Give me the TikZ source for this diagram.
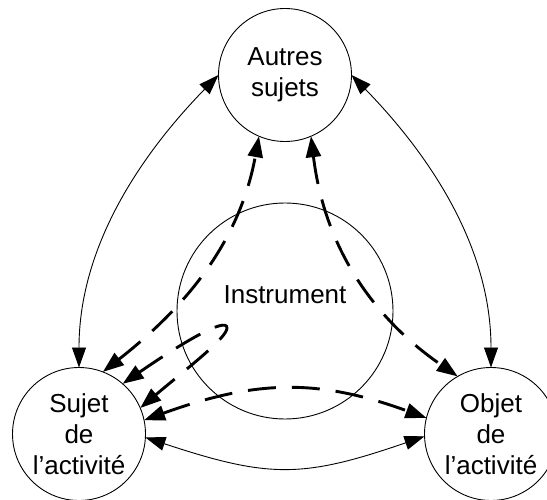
\documentclass[tikz,border=0pt]{standalone}
\usepackage{fontspec}
\setmainfont{Liberation Sans}
\usetikzlibrary{arrows.meta}
\begin{document}
\begin{tikzpicture}[x=1pt,y=-1pt,
  ent/.style={circle,draw,line width=0.9pt,minimum size=133pt,inner sep=0pt,outer sep=0pt,align=center,font=\fontsize{26}{31}\selectfont},
  thinlink/.style={line width=0.9pt,{Triangle[length=20pt,width=14pt]}-{Triangle[length=20pt,width=14pt]}},
  dashlink/.style={line width=2.9pt,dash pattern=on 28pt off 16pt,{Triangle[length=21pt,width=15pt]}-{Triangle[length=21pt,width=15pt]}},
]
\useasboundingbox (0,0) rectangle (547,500);
\node[ent] (A) at (285,75) {Autres\\sujets};
\node[ent] (S) at (79,434) {Sujet\\de\\l’activité};
\node[ent] (O) at (491,434) {Objet\\de\\l’activité};
\node[circle,draw,line width=0.9pt,minimum size=216pt,inner sep=0pt,outer sep=0pt] (I) at (285,311) {};
\node[font=\fontsize{26}{31}\selectfont] (Ilab) at (285,294.5) {Instrument};
\draw[thinlink] (S.north) .. controls +(0,-121) and +(-78,80) .. (A.west);
\draw[thinlink] (O.north) .. controls +(0,-121) and +(78,80) .. (A.east);
\draw[thinlink] (S.-3) .. controls +(124,41) and +(-122,42) .. (O.182);
\draw[dashlink] (S.12) .. controls +(111,-40) and +(-110,-40) .. (O.166);
\draw[dashlink] (S.69) .. controls +(79,-62) and +(-20,109) .. (A.247);
\draw[dashlink] (A.293) .. controls +(18,149) and +(-41,-28.5) .. (O.120);
\coordinate (hook) at (227,328);
\draw[dashlink] (S.49) .. controls +(58,-40) and +(0,-12) .. (hook) .. controls +(0,10) and +(46,-39) .. (S.23);
\end{tikzpicture}
\end{document}
